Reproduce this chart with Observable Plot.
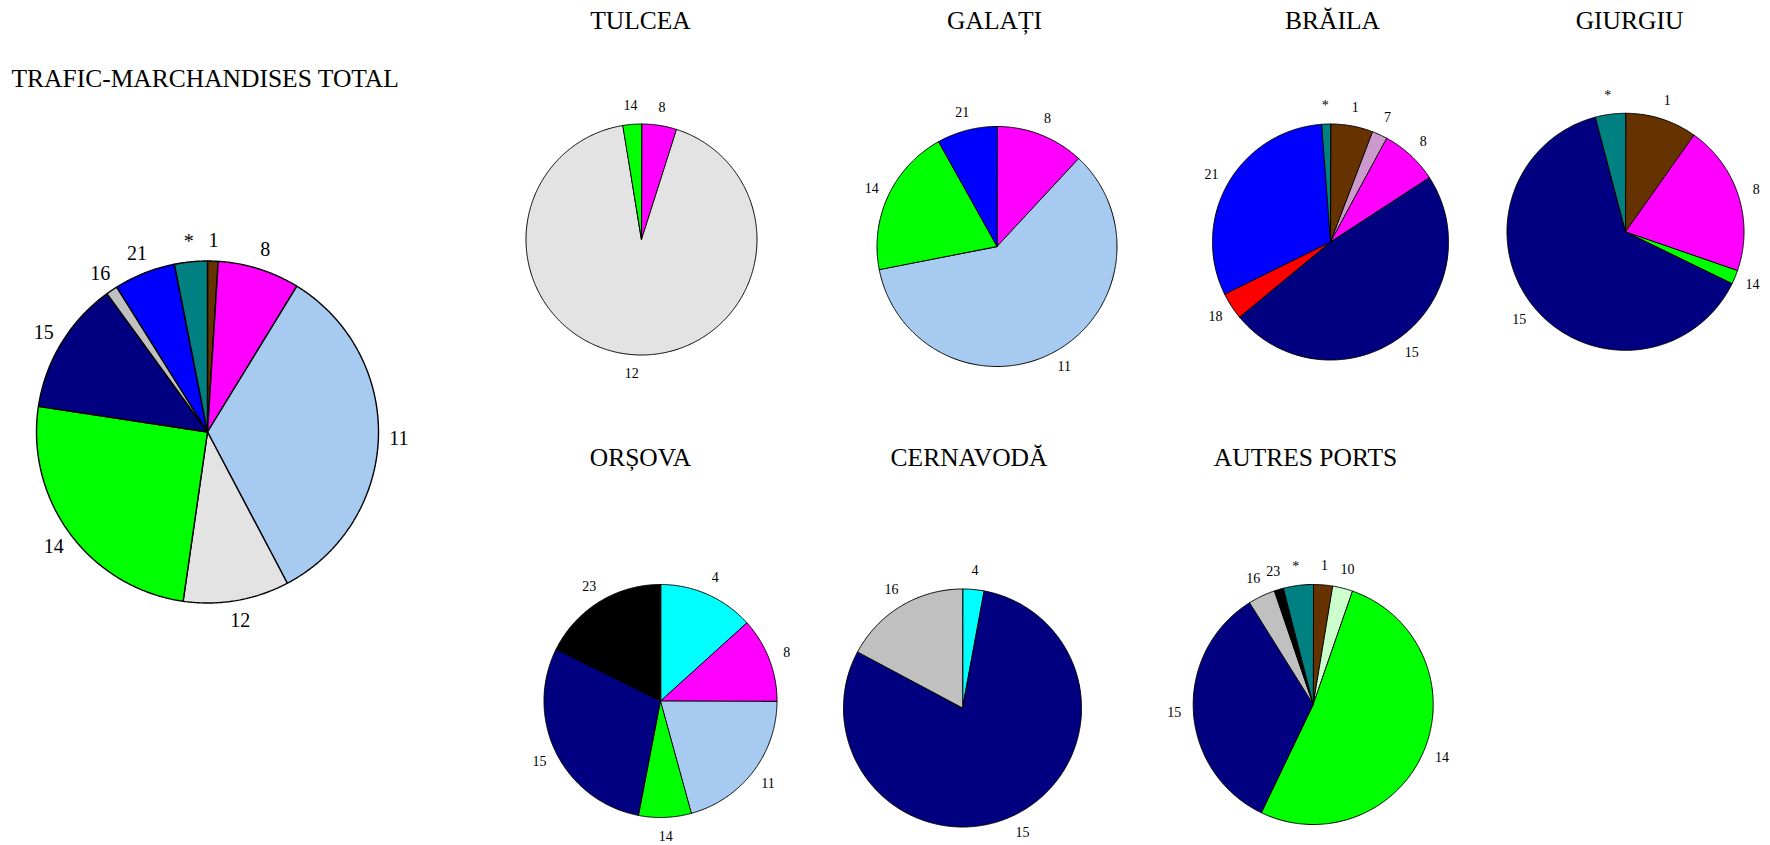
<!DOCTYPE html>
<html>
<head>
<meta charset="utf-8">
<script src="https://cdn.jsdelivr.net/npm/d3@7"></script>
<script src="https://cdn.jsdelivr.net/npm/@observablehq/plot@0.6"></script>
<style>
  html, body { margin: 0; padding: 0; background: #fff; }
  #chart svg { display: block; }
</style>
</head>
<body>
<div id="chart"></div>
<script>
// ---- categories & colours ----
const categories = ["1","4","7","8","10","11","12","14","15","16","18","21","23","*"];
const categoryColors = ["#663300","#00ffff","#cc99cc","#ff00ff","#ccffcc","#a6caf0","#e3e3e3","#00ff00","#000080","#c0c0c0","#ff0000","#0000ff","#000000","#008080"];

// ---- series (percent shares, clockwise from 12 o'clock) ----
const totalCats = ["1","8","11","12","14","15","16","21","*"];
const totalValues = [1.0, 7.75, 33.5, 10.0, 25.1, 12.6, 1.1, 5.8, 3.1];

const tulceaCats = ["8","12","14"];
const tulceaValues = [4.9, 92.5, 2.6];

const galatiCats = ["8","11","14","21"];
const galatiValues = [11.9, 60.0, 20.0, 8.1];

const brailaCats = ["1","7","8","15","18","21","*"];
const brailaValues = [5.8, 2.1, 7.9, 48.2, 3.7, 31.1, 1.2];

const giurgiuCats = ["1","8","14","15","*"];
const giurgiuValues = [9.8, 20.5, 1.9, 63.7, 4.1];

const orsovaCats = ["4","8","11","14","15","23"];
const orsovaValues = [13.3, 11.75, 20.7, 7.3, 29.3, 17.7];

const cernavodaCats = ["4","15","16"];
const cernavodaValues = [2.9, 79.9, 17.2];

const autresCats = ["1","10","14","15","16","23","*"];
const autresValues = [2.6, 2.7, 51.8, 34.0, 3.65, 1.25, 4.0];

const pieTitles = ["TRAFIC-MARCHANDISES TOTAL","TULCEA","GALAȚI","BRĂILA","GIURGIU","ORȘOVA","CERNAVODĂ","AUTRES PORTS"];
const pieCats = [totalCats, tulceaCats, galatiCats, brailaCats, giurgiuCats, orsovaCats, cernavodaCats, autresCats];
const pieValues = [totalValues, tulceaValues, galatiValues, brailaValues, giurgiuValues, orsovaValues, cernavodaValues, autresValues];

// ---- layout (pixels) ----
const layout = [
  {cx: 207,   cy: 431.5, r: 171,   lr: 1.12, tx: 11,    ty: 78.5, anchor: "start"},
  {cx: 641,   cy: 239,   r: 115.5, lr: 1.16, tx: 640,   ty: 20.7, anchor: "middle"},
  {cx: 996.5, cy: 246,   r: 120,   lr: 1.15, tx: 994,   ty: 20.7, anchor: "middle"},
  {cx: 1330,  cy: 241.5, r: 118,   lr: 1.16, tx: 1332,  ty: 20.7, anchor: "middle"},
  {cx: 1625,  cy: 231.3, r: 118.5, lr: 1.16, tx: 1629,  ty: 20.7, anchor: "middle"},
  {cx: 660,   cy: 700.5, r: 116.5, lr: 1.16, tx: 640,   ty: 457.7, anchor: "middle"},
  {cx: 962,   cy: 707.5, r: 119,   lr: 1.16, tx: 968.5, ty: 457.7, anchor: "middle"},
  {cx: 1312.7,cy: 704,   r: 120,   lr: 1.16, tx: 1305,  ty: 457.7, anchor: "middle"}
];

// ---- build slice polygons & labels from the data ----
const rad = Math.PI / 180;
const slicePoints = [];
const labels = [];
pieValues.forEach((vals, p) => {
  const L = layout[p];
  const total = d3.sum(vals);
  let a = 0;
  vals.forEach((v, i) => {
    const a0 = a, a1 = a + v / total * 360;
    a = a1;
    const id = p + "-" + i;
    const cat = pieCats[p][i];
    slicePoints.push({id, pie: p, cat, x: L.cx, y: L.cy});
    const n = Math.max(2, Math.ceil((a1 - a0) / 0.5));
    for (let k = 0; k <= n; k++) {
      const t = (a0 + (a1 - a0) * k / n) * rad;
      slicePoints.push({id, pie: p, cat, x: L.cx + L.r * Math.sin(t), y: L.cy - L.r * Math.cos(t)});
    }
    const m = (a0 + a1) / 2 * rad;
    labels.push({pie: p, text: cat, x: L.cx + L.r * L.lr * Math.sin(m), y: L.cy - L.r * L.lr * Math.cos(m)});
  });
});
const titles = pieTitles.map((t, p) => ({text: t, x: layout[p].tx, y: layout[p].ty, anchor: layout[p].anchor}));

const font = "'Liberation Serif', 'Times New Roman', serif";

const chart = Plot.plot({
  width: 1770,
  height: 845,
  margin: 0,
  style: {background: "#fff", fontFamily: font},
  x: {domain: [0, 1770], range: [0, 1770], axis: null},
  y: {domain: [0, 845], range: [0, 845], axis: null},
  color: {domain: categories, range: categoryColors},
  marks: [
    Plot.line(slicePoints.filter(d => d.pie === 0), {x: "x", y: "y", z: "id", fill: "cat", stroke: "#000", strokeWidth: 1.4, curve: "linear-closed", strokeLinejoin: "miter"}),
    Plot.line(slicePoints.filter(d => d.pie > 0), {x: "x", y: "y", z: "id", fill: "cat", stroke: "#000", strokeWidth: 1, curve: "linear-closed", strokeLinejoin: "miter"}),
    Plot.text(labels.filter(d => d.pie === 0), {x: "x", y: "y", text: "text", fontSize: 20, fill: "#000", fontFamily: font}),
    Plot.text(labels.filter(d => d.pie > 0), {x: "x", y: "y", text: "text", fontSize: 14, fill: "#000", fontFamily: font}),
    Plot.text(titles.filter(d => d.anchor === "start"), {x: "x", y: "y", text: "text", fontSize: 25.5, textAnchor: "start", fill: "#000", fontFamily: font}),
    Plot.text(titles.filter(d => d.anchor === "middle"), {x: "x", y: "y", text: "text", fontSize: 25.5, fill: "#000", fontFamily: font})
  ]
});
document.getElementById("chart").appendChild(chart);
</script>
</body>
</html>
